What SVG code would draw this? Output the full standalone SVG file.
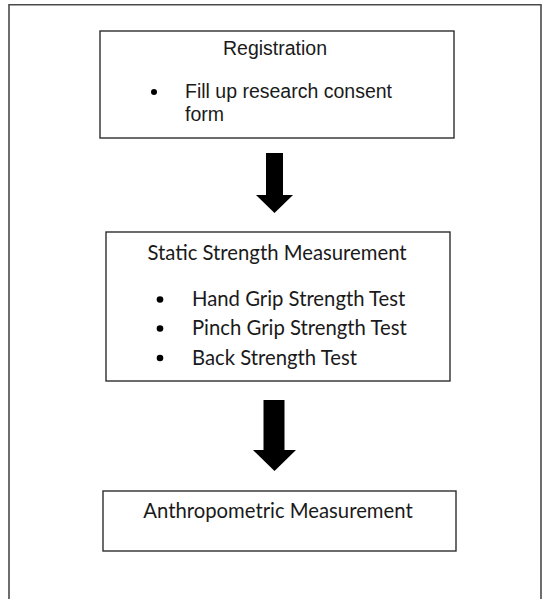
<svg xmlns="http://www.w3.org/2000/svg" width="544" height="599" viewBox="0 0 544 599">
  <style>
    .frame { fill: none; stroke: #4a4a4a; stroke-width: 1.6; }
    .box { fill: #ffffff; stroke: #2e2e2e; stroke-width: 1.4; }
    .arial { font-family: "Liberation Sans", Arial, sans-serif; font-size: 19.5px; fill: #1a1a1a; }
    .cal { font-family: Lato, "Carlito", "Open Sans", sans-serif; font-size: 20.3px; fill: #1a1a1a; }
    .bullet { fill: #000000; }
    .arrow { fill: #000000; }
  </style>
  <rect width="544" height="599" fill="#ffffff"/>
  <path class="frame" d="M9,610 L9,4.8 L541,4.8 L541,610"/>

  <g id="registration">
    <rect class="box" x="100" y="31" width="354" height="107"/>
    <text class="arial" x="275" y="55" text-anchor="middle">Registration</text>
    <circle class="bullet" cx="154" cy="92" r="3"/>
    <text class="arial" x="185" y="98">Fill up research consent</text>
    <text class="arial" x="185" y="121">form</text>
  </g>

  <g id="static-strength">
    <rect class="box" x="106" y="232" width="344" height="149"/>
    <text class="cal" x="277" y="260" text-anchor="middle">Static Strength Measurement</text>
    <circle class="bullet" cx="160" cy="299.5" r="3.3"/>
    <text class="cal" x="192" y="306">Hand Grip Strength Test</text>
    <circle class="bullet" cx="160" cy="328.5" r="3.3"/>
    <text class="cal" x="192" y="335">Pinch Grip Strength Test</text>
    <circle class="bullet" cx="160" cy="358" r="3.3"/>
    <text class="cal" x="192" y="365">Back Strength Test</text>
  </g>

  <g id="anthropometric">
    <rect class="box" x="103" y="491" width="353" height="60"/>
    <text class="cal" x="278" y="518" text-anchor="middle">Anthropometric Measurement</text>
  </g>

  <g id="connectors">
    <polygon class="arrow" points="266,153 283,153 283,195 293,195 274.5,213 256,195 266,195"/>
    <polygon class="arrow" points="263.5,400 284.5,400 284.5,450 296,450 274.5,471 253,450 263.5,450"/>
  </g>
</svg>
